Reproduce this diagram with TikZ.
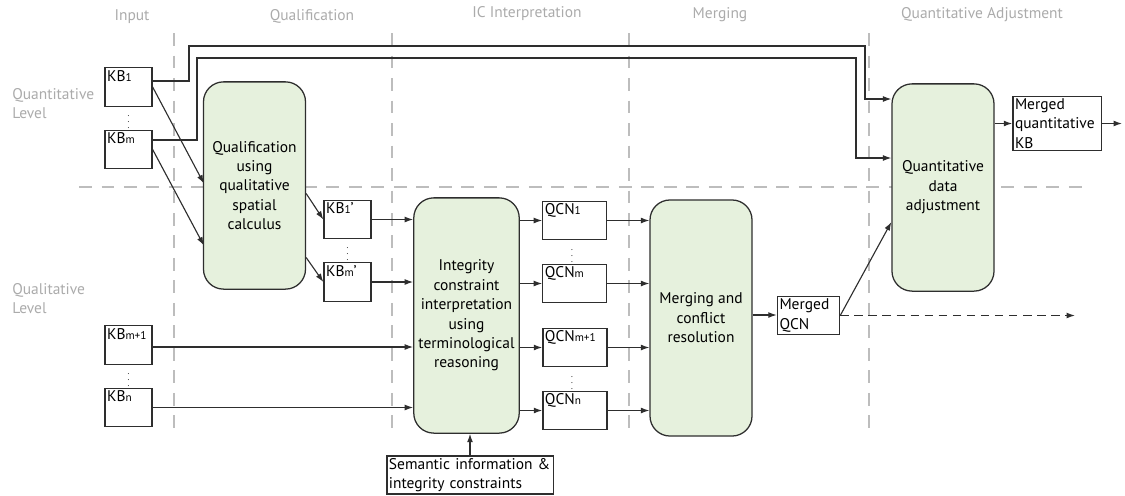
\documentclass[tikz,border=0pt]{standalone}
\usepackage{fontspec}
\setmainfont{PT Sans}
\usepackage{tikz}
\usetikzlibrary{arrows.meta,calc}
\definecolor{linec}{HTML}{2E2E2E}
\definecolor{fillg}{HTML}{E6F1DD}
\definecolor{headc}{HTML}{ABABAB}
\definecolor{gridc}{HTML}{BDBDBD}
\newcommand\ix[1]{{\fontsize{8}{8}\selectfont #1}}
\newcommand\vd{{\fontsize{6}{6}\selectfont$\vdots$}}

\begin{document}
\begin{tikzpicture}[
  x=0.025cm, y=-0.025cm,
  every node/.style={font=\fontsize{11}{13.8}\selectfont, text=black},
  box/.style={rectangle, draw=linec, line width=0.9pt, inner sep=1.5pt, text height=8pt, text depth=16.3pt, text width=#1, align=left},
  box/.default=1.07cm,
  tbox/.style={rectangle, draw=linec, line width=0.9pt, inner sep=1.5pt, text width=#1, align=left},
  step box/.style={rectangle, draw=linec, line width=0.9pt, rounded corners=0.5cm, fill=fillg, minimum width=2.55cm, align=center},
  head/.style={text=headc},
  lane/.style={gridc, line width=0.8pt, dash pattern=on 9pt off 7pt},
  arrow/.style={-{Latex[length=6pt,width=4.2pt]}, linec, line width=0.8pt},
  dots/.style={inner sep=0pt}
]
\useasboundingbox (0,0) rectangle (1125,495);

% lanes
\node[head] (hinput) at (132,17) {Input};
\node[head] (hqual) at (312,16) {Qualification};
\node[head] (hic) at (527,14) {IC Interpretation};
\node[head] (hmerge) at (720,15) {Merging};
\node[head] (hadj) at (982,15) {Quantitative Adjustment};
\node[head, anchor=north west, align=left, inner sep=0pt] (lquant) at (12,88) {Quantitative\\Level};
\node[head, anchor=north west, align=left, inner sep=0pt] (lqual) at (12,283) {Qualitative\\Level};
\foreach \x in {174,392,629,869}
  \draw[lane] (\x,33) -- (\x,437);
\draw[lane] (79,187) -- (1083,187);

% input knowledge bases
\node[box] (kb1) at (128.5,87) {KB\ix{1}};
\node[dots] (d1) at (128.5,118) {\vd};
\node[box] (kbm) at (128.5,149.5) {KB\ix{m}};
\node[box] (kbm1) at (128.5,345) {KB\ix{m+1}};
\node[dots] (d2) at (128.5,376) {\vd};
\node[box] (kbn) at (128.5,407.5) {KB\ix{n}};

% qualification
\node[step box, minimum height=5.18cm] (qual) at (254.5,185.5) {Qualification\\using\\qualitative\\spatial\\calculus};
\node[box] (kb1p) at (347.5,219.5) {KB\ix{1}’};
\node[dots] (d3) at (347.5,250) {\vd};
\node[box] (kbmp) at (347.5,282) {KB\ix{m}’};

% IC interpretation
\node[step box, minimum height=5.88cm, minimum width=2.53cm] (integ) at (466.5,315.5) {Integrity\\constraint\\interpretation\\using\\terminological\\reasoning};
\node[tbox=4.05cm] (sem) at (470,475) {Semantic information \&\\integrity constraints};
\node[box=1.48cm] (qcn1) at (574.5,220.5) {QCN\ix{1}};
\node[dots] (d4) at (572,252) {\vd};
\node[box=1.48cm] (qcnm) at (574.5,283.5) {QCN\ix{m}};
\node[box=1.5cm] (qcnm1) at (575,347.5) {QCN\ix{m+1}};
\node[dots] (d5) at (572,379) {\vd};
\node[box=1.5cm] (qcnn) at (575,410.5) {QCN\ix{n}};

% merging
\node[step box, minimum height=5.9cm] (merge) at (701,318) {Merging and\\conflict\\resolution};
\node[tbox=1.45cm] (mqcn) at (808.5,315.5) {Merged\\QCN};
\coordinate (qout) at (1075,315.5);

% quantitative adjustment
\node[step box, minimum height=5.18cm] (adjust) at (943,187.5) {Quantitative\\data\\adjustment};
\node[tbox=2.1cm] (mqkb) at (1057,123.5) {Merged\\quantitative\\KB};
\coordinate (kout) at (1122,123.5);

% connections
\draw[arrow] ($(kb1.east)+(0,-6)$) -| (189,46) -| (865,99) -- ($(adjust.west)+(0,-88.5)$);
\draw[arrow] ($(kbm.east)+(0,-9.5)$) -| (197,58) -| (856,158) -- ($(adjust.west)+(0,-29.5)$);
\draw[arrow] (kb1.east) -- ($(qual.west)+(1,-2)$);
\draw[arrow] (kbm.east) -- ($(qual.west)+(1,60)$);
\draw[arrow] ($(qual.east)+(0,8)$) -- (kb1p.west);
\draw[arrow] ($(qual.east)+(0,72)$) -- (kbmp.west);
\draw[arrow] (kb1p.east) -- (kb1p.east -| integ.west);
\draw[arrow] (kbmp.east) -- (kbmp.east -| integ.west);
\draw[arrow] ($(kbm1.east)+(0,2)$) -- ($(kbm1.east -| integ.west)+(0,2)$);
\draw[arrow] (kbn.east) -- (kbn.east -| integ.west);
\draw[arrow] (sem.north) -- (sem.north |- integ.south);
\foreach \q in {qcn1,qcnm,qcnm1,qcnn} {
  \draw[arrow] (integ.east |- \q.west) -- (\q.west);
  \draw[arrow] (\q.east) -- (\q.east -| merge.west);
}
\draw[arrow] ($(merge.east)+(0,-3)$) -- ($(merge.east -| mqcn.west)+(0,-3)$);
\draw[arrow] (mqcn.east) -- ($(adjust.west)+(0,34.5)$);
\draw[arrow, dash pattern=on 6pt off 4pt] (mqcn.east) -- (qout);
\draw[arrow] (adjust.east |- mqkb.west) -- (mqkb.west);
\draw[arrow] (mqkb.east) -- (kout);
\end{tikzpicture}
\end{document}
